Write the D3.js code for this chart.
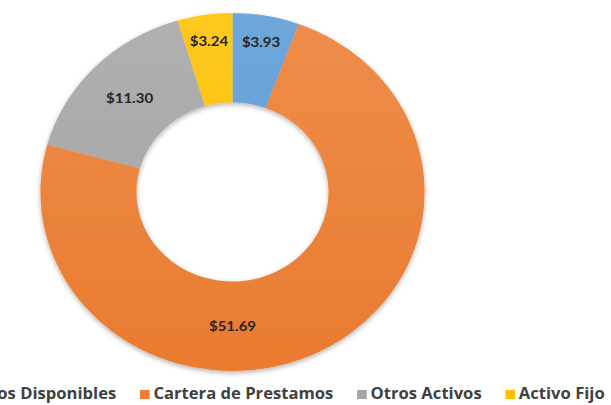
<!DOCTYPE html>
<html>
<head>
<meta charset="utf-8">
<title>Activos</title>
<style>
  html, body { margin: 0; padding: 0; background: #fff; overflow: hidden; }
  svg { display: block; }
  text { font-family: Lato, "Open Sans", sans-serif; font-weight: bold; }
  .item text { font-family: "Open Sans", Lato, sans-serif; }
</style>
</head>
<body>
<script src="https://cdn.jsdelivr.net/npm/d3@7"></script>
<script>
// data
var categories = ["Fondos Disponibles", "Cartera de Prestamos", "Otros Activos", "Activo Fijo"];
var values     = [3.93, 51.69, 11.30, 3.24];
var colors     = ["#5B9BD5", "#ED7D31", "#A5A5A5", "#FFC000"];

var width = 611, height = 405;
var sx = 1.073;            // the original picture is a little stretched sideways
var cx = 232.5, cy = 192;
var outer = 179, inner = outer * 0.5;

var svg = d3.select("body").append("svg")
    .attr("width", width)
    .attr("height", height);

var defs = svg.append("defs");

// soft shadow, like the office chart style
var f = defs.append("filter").attr("id", "shadow")
    .attr("x", "-20%").attr("y", "-20%").attr("width", "140%").attr("height", "140%");
f.append("feDropShadow")
    .attr("dx", 0).attr("dy", 2).attr("stdDeviation", 2.5)
    .attr("flood-color", "#000").attr("flood-opacity", 0.3);

// light-to-base vertical shading per slice
colors.forEach(function(c, i) {
    var g = defs.append("linearGradient")
        .attr("id", "grad" + i)
        .attr("gradientUnits", "userSpaceOnUse")
        .attr("x1", 0).attr("y1", -outer).attr("x2", 0).attr("y2", outer);
    g.append("stop").attr("offset", "0%").attr("stop-color", d3.interpolateRgb(c, "#fff")(0.12));
    g.append("stop").attr("offset", "100%").attr("stop-color", d3.color(c).darker(0.05));
});

var pie = d3.pie().sort(null).value(function(d) { return d; });
var arcs = pie(values);

var arc = d3.arc().innerRadius(inner).outerRadius(outer);

var chart = svg.append("g")
    .attr("transform", "translate(" + cx + "," + cy + ") scale(" + sx + ",1)");

chart.append("g")
    .attr("filter", "url(#shadow)")
    .selectAll("path")
    .data(arcs)
    .enter().append("path")
    .attr("d", arc)
    .attr("fill", function(d, i) { return "url(#grad" + i + ")"; });

// labels: small slices pushed outward, the big one sits at the bottom
var fmt = d3.format("$.2f");
chart.selectAll(".lbl")
    .data(arcs)
    .enter().append("text")
    .attr("class", "lbl")
    .attr("transform", function(d) {
        var span = d.endAngle - d.startAngle;
        var a = span > Math.PI ? Math.PI : (d.startAngle + d.endAngle) / 2;
        var r = span < 0.6 ? outer * 0.85 : (inner + outer) / 2;
        return "translate(" + (r * Math.sin(a)) + "," + (-r * Math.cos(a)) + ")";
    })
    .attr("text-anchor", "middle")
    .attr("dy", "0.35em")
    .style("font-size", "14px")
    .style("fill", "#262626")
    .text(function(d) { return fmt(d.value); });

// legend, laid out in a row; the first entry runs off the left edge as in the original
var legend = svg.append("g");
var items = legend.selectAll(".item")
    .data(categories)
    .enter().append("g")
    .attr("class", "item");

items.append("rect")
    .attr("width", 9).attr("height", 9)
    .attr("y", -9)
    .attr("fill", function(d, i) { return colors[i]; });

items.append("text")
    .attr("x", 12.5)
    .style("font-size", "15.5px")
    .style("fill", "#404040")
    .text(function(d) { return d; });

var x = 0, pos = [];
items.each(function() {
    pos.push(x);
    x += 12.5 + d3.select(this).select("text").node().getComputedTextLength() + 22;
});
items.attr("transform", function(d, i) { return "translate(" + pos[i] + ",0)"; });

// put "Cartera de Prestamos" marker where it sits in the picture
legend.attr("transform", "translate(" + (140 - pos[1] * sx) + ",399) scale(" + sx + ",1)");
</script>
</body>
</html>
